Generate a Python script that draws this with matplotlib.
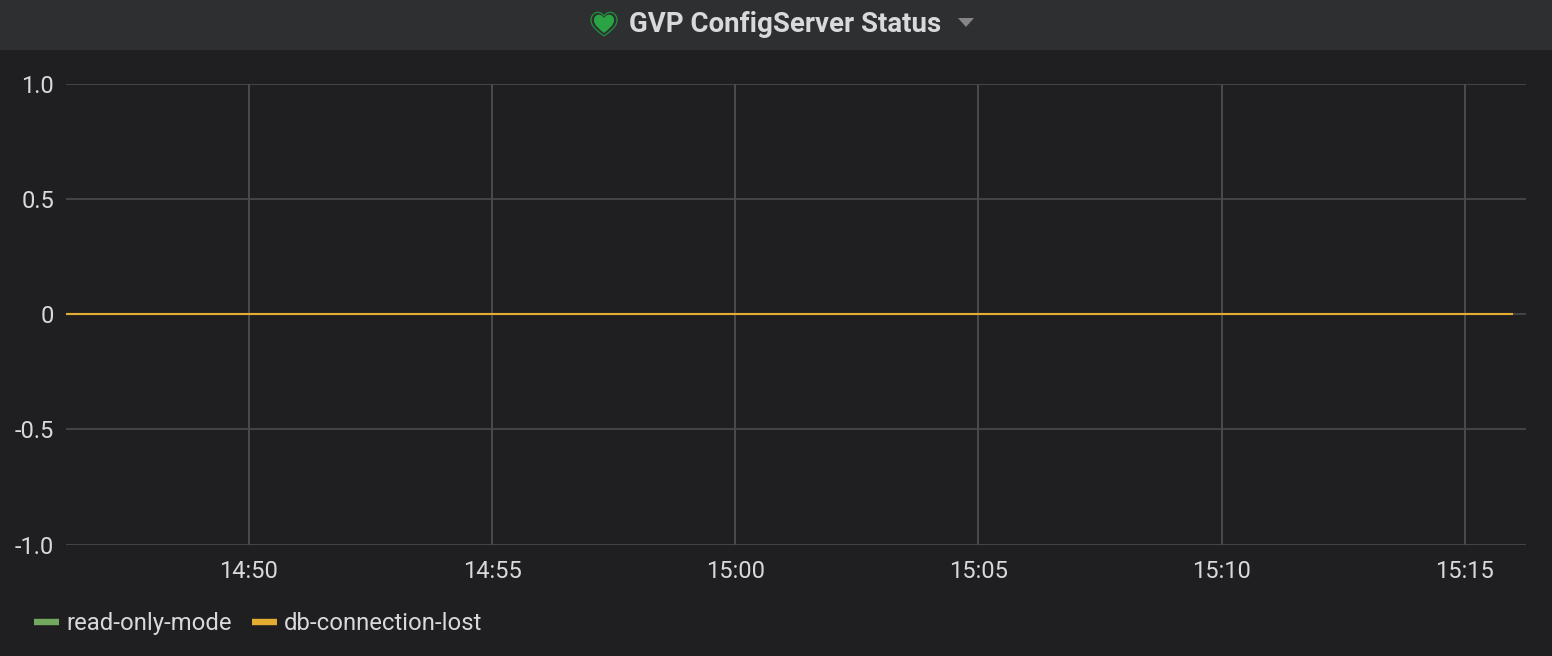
import matplotlib
matplotlib.use("Agg")
import matplotlib.pyplot as plt
import matplotlib.dates as mdates
import pandas as pd
from matplotlib.patches import PathPatch, Polygon, Rectangle
from matplotlib.path import Path

plt.rcParams['font.family'] = ['Roboto', 'DejaVu Sans']

W, H = 1552, 656
BG = '#1f1f21'
HEADER = '#2e2f31'
GRID = '#4a4b4d'
TEXT = '#d8d9da'

title = 'GVP ConfigServer Status'
times = ['14:46:15', '14:50:00', '14:55:00', '15:00:00', '15:05:00', '15:10:00', '15:15:00', '15:16:00']
read_only_mode = [0, 0, 0, 0, 0, 0, 0, 0]
db_connection_lost = [0, 0, 0, 0, 0, 0, 0, 0]
xticks = ['14:50', '14:55', '15:00', '15:05', '15:10', '15:15']
yticks = [-1.0, -0.5, 0, 0.5, 1.0]
ylabels = ['-1.0', '-0.5', '0', '0.5', '1.0']

t = pd.to_datetime(['2020-01-01 ' + s for s in times])
tick_t = pd.to_datetime(['2020-01-01 ' + s + ':00' for s in xticks])

fig = plt.figure(figsize=(W / 100, H / 100), dpi=100, facecolor=BG)

# plot area, pixel positions
left, right, top, bottom = 66, 1526, 84, 544.5
ax = fig.add_axes([left / W, 1 - bottom / H, (right - left) / W, (bottom - top) / H])
ax.set_facecolor(BG)
ax.plot(t, read_only_mode, color='#73a85f', lw=1.5, label='read-only-mode', solid_capstyle='butt', zorder=3)
ax.plot(t, db_connection_lost, color='#e5ac32', lw=1.5, label='db-connection-lost', solid_capstyle='butt', zorder=4)

ax.set_xlim(pd.Timestamp('2020-01-01 14:46:14.500'), pd.Timestamp('2020-01-01 15:16:15.500'))
ax.set_ylim(-1, 1)
ax.set_xticks(tick_t)
ax.xaxis.set_major_formatter(mdates.DateFormatter('%H:%M'))
ax.set_yticks(yticks)
ax.set_yticklabels(ylabels)
ax.grid(True, color=GRID, lw=1.2, zorder=1)
ax.xaxis.grid(True, color='#555658', lw=1.1)
ax.set_axisbelow(True)
ax.tick_params(length=0, labelsize=17, labelcolor=TEXT)
ax.tick_params(axis='x', pad=11)
ax.tick_params(axis='y', pad=8.5)
for s in ax.spines.values():
    s.set_visible(False)

leg = ax.legend(loc='upper left', bbox_to_anchor=(34 / W, 1 - 612 / H), bbox_transform=fig.transFigure,
                ncol=2, frameon=False, fontsize=17.2, labelcolor=TEXT, borderpad=0, borderaxespad=0,
                handlelength=1.05, handletextpad=0.29, columnspacing=0.87)
for line in leg.get_lines():
    line.set_linewidth(4.6)
    line.set_solid_capstyle('butt')

# header strip, heart and dropdown arrow drawn in pixel coordinates
over = fig.add_axes([0, 0, 1, 1], zorder=5)
over.set_xlim(0, W)
over.set_ylim(H, 0)
over.axis('off')
over.patch.set_alpha(0)
over.add_patch(Rectangle((0, 0), W, 50, color=HEADER, lw=0))

heart = Path([(604, 36), (596, 30), (591, 26), (591, 20), (591, 13), (599, 9), (604, 16),
              (609, 9), (617, 13), (617, 20), (617, 26), (612, 30), (604, 36)],
             [Path.MOVETO, Path.CURVE4, Path.CURVE4, Path.CURVE4, Path.CURVE4, Path.CURVE4, Path.CURVE4,
              Path.CURVE4, Path.CURVE4, Path.CURVE4, Path.CURVE4, Path.CURVE4, Path.CURVE4])
inner = Path([(604, 33), (598, 28), (594, 25), (594, 20), (594, 15), (600, 12), (604, 18),
              (608, 12), (614, 15), (614, 20), (614, 25), (610, 28), (604, 33)], heart.codes)
over.add_patch(PathPatch(heart, facecolor=HEADER, edgecolor='#1f8a3c', lw=1.0))
over.add_patch(PathPatch(inner, facecolor='#2aa344', edgecolor='none'))
over.text(629, 25, title, fontsize=19.9, fontweight='bold', color=TEXT, va='center', ha='left')
over.add_patch(Polygon([(958, 18), (974, 18), (966, 27)], closed=True, color='#858587', lw=0))

fig.savefig('out.png', dpi=100, facecolor=BG)
